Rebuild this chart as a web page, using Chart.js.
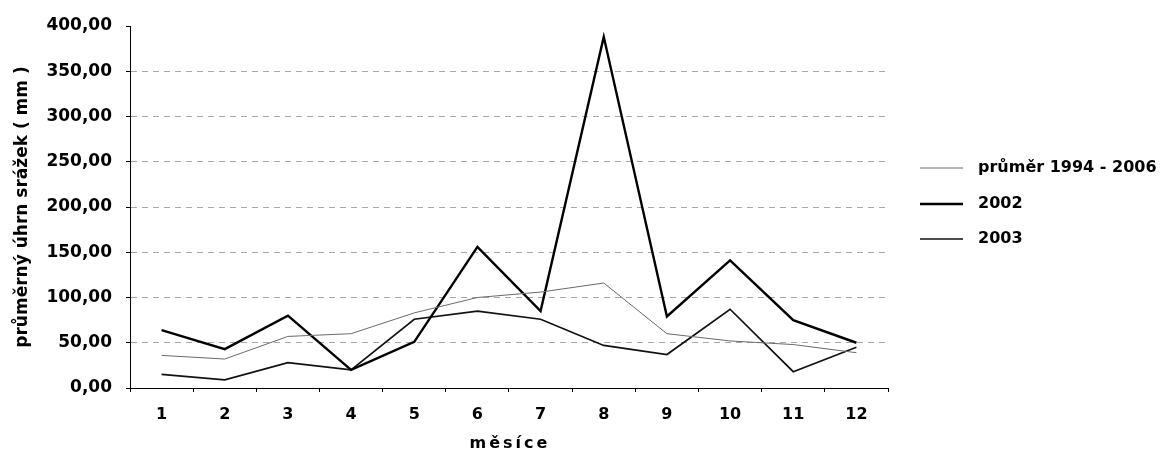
<!DOCTYPE html>
<html>
<head>
<meta charset="utf-8">
<script src="https://cdn.jsdelivr.net/npm/chart.js@4/dist/chart.umd.min.js"></script>
<style>
  html, body { margin: 0; padding: 0; background: #fff; }
  #wrap { width: 1164px; height: 465px; }
</style>
</head>
<body>
<div id="wrap"><canvas id="srazky"></canvas></div>
<script>
var mesice = ['1','2','3','4','5','6','7','8','9','10','11','12'];
var prumer = [36, 32, 57, 60, 83, 100, 106, 116, 60, 52, 48, 39];
var rok2002 = [64, 43, 80, 20, 51, 156, 85, 388, 79, 141, 75, 50];
var rok2003 = [15, 9, 28, 20, 76, 85, 76, 47, 37, 87, 18, 45];
var osaY = [0, 50, 100, 150, 200, 250, 300, 350, 400];

var pismo = 'DejaVu Sans';

// legenda vpravo + popis osy x (s prostrkanim)
var popisky = {
  id: 'popisky',
  afterDraw: function(chart) {
    var ctx = chart.ctx;
    var area = chart.chartArea;
    ctx.save();
    ctx.font = 'bold 16px "' + pismo + '"';
    ctx.fillStyle = '#000';
    ctx.textBaseline = 'middle';
    var radky = [168, 204, 239];
    chart.data.datasets.forEach(function(ds, i) {
      var y = radky[i];
      ctx.strokeStyle = ds.borderColor;
      ctx.lineWidth = ds.borderWidth;
      ctx.beginPath();
      ctx.moveTo(920, y);
      ctx.lineTo(963, y);
      ctx.stroke();
      ctx.textAlign = 'left';
      ctx.fillText(ds.label, 978, y);
    });
    ctx.letterSpacing = '3px';
    ctx.textAlign = 'center';
    ctx.fillText('měsíce', (area.left + area.right) / 2 + 1, 444);
    ctx.restore();
  }
};

var ctx = document.getElementById('srazky').getContext('2d');
var graf = new Chart(ctx, {
  type: 'line',
  data: {
    labels: mesice,
    datasets: [{
      label: 'průměr 1994 - 2006',
      data: prumer,
      borderColor: '#6a6a6a',
      borderWidth: 1,
      pointRadius: 0,
      tension: 0
    }, {
      label: '2002',
      data: rok2002,
      borderColor: '#000',
      borderWidth: 2.4,
      pointRadius: 0,
      tension: 0
    }, {
      label: '2003',
      data: rok2003,
      borderColor: '#111',
      borderWidth: 1.7,
      pointRadius: 0,
      tension: 0
    }]
  },
  options: {
    responsive: true,
    maintainAspectRatio: false,
    animation: false,
    layout: { padding: { top: 26, right: 276, bottom: 0, left: 0 } },
    plugins: {
      legend: { display: false },
      tooltip: { enabled: false }
    },
    scales: {
      x: {
        offset: true,
        afterFit: function(s) { s.height = 77; },
        grid: {
          offset: true,
          drawOnChartArea: false,
          color: '#000',
          tickColor: '#000',
          tickLength: 4
        },
        border: { color: '#000', width: 1 },
        ticks: {
          color: '#000',
          padding: 13,
          maxRotation: 0,
          font: { family: pismo, size: 16, weight: 'bold' }
        }
      },
      y: {
        min: 0,
        max: 400,
        afterFit: function(s) { s.width = 130; },
        afterBuildTicks: function(s) {
          s.ticks = osaY.map(function(v) { return { value: v }; });
        },
        grid: {
          color: function(c) {
            var v = c.tick ? c.tick.value : 0;
            return (v === 0 || v === 400) ? 'rgba(0,0,0,0)' : '#a8a8a8';
          },
          lineWidth: 1,
          tickColor: '#000',
          tickLength: 4,
          tickBorderDash: []
        },
        border: { color: '#000', width: 1, dash: [6, 5] },
        ticks: {
          color: '#000',
          padding: 14,
          font: { family: pismo, size: 17, weight: 'bold' },
          callback: function(v) { return v.toFixed(2).replace('.', ','); }
        },
        title: {
          display: true,
          text: 'průměrný úhrn srážek ( mm )',
          color: '#000',
          padding: { top: 12, bottom: 0 },
          font: { family: pismo, size: 17, weight: 'bold' }
        }
      }
    }
  },
  plugins: [popisky]
});
</script>
</body>
</html>
